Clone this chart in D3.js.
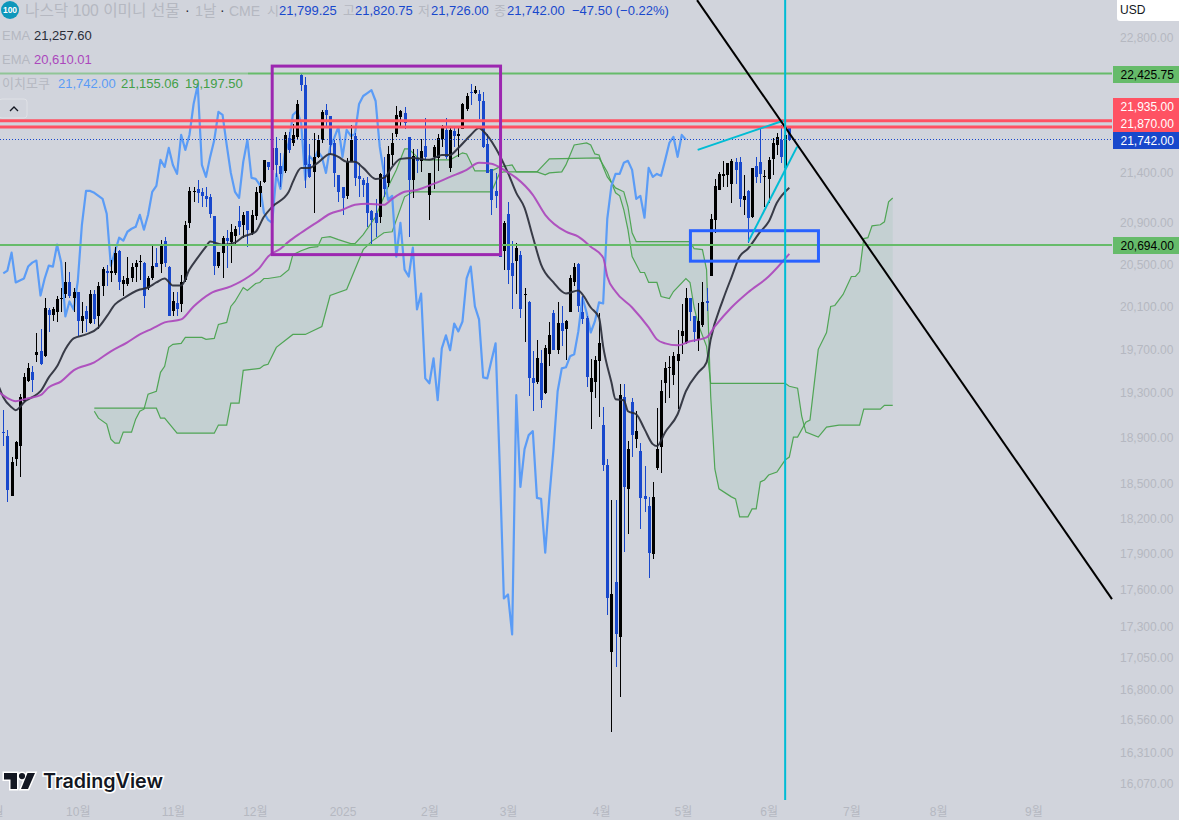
<!DOCTYPE html>
<html>
<head>
<meta charset="utf-8">
<script src="https://cdn.jsdelivr.net/npm/d3@7"></script>
<style>
  body { margin: 0; background: #d1d4dc; overflow: hidden; }
  text { font-family: "Liberation Sans", "Noto Sans CJK KR", sans-serif; }
</style>
</head>
<body>
<div id="chart"></div>
<script>
// daily candles, oldest first
var opens = [18958,18923,18401,18720,18835,19235,19415,19497,19653,19690,19644,20070,20032,20051,20183,20230,20344,20192,20240,19967,20061,19948,20221,20014,20297,20449,20430,20430,20640,20325,20316,20373,20487,20535,20525,20278,20382,20525,20516,20737,20487,20061,20136,20127,20354,20912,21217,21246,21217,21177,21167,20980,20496,20621,20766,20727,20785,20931,20892,21030,20814,20980,21207,21316,21517,21436,21658,21476,21426,21759,21708,21769,22410,22305,21497,21416,21567,21739,22046,21985,21708,21386,21266,21177,21517,21780,21376,21336,21306,21030,21010,20971,21386,21306,21587,21800,21974,22015,21769,21336,21557,21527,21678,21187,21567,21557,21749,21841,21456,21830,21780,21851,22057,22232,22222,22211,22139,21698,21446,21226,21246,20640,21000,20525,20544,20602,20221,20146,19442,19406,19579,19307,19662,20042,19699,19948,19892,20051,20344,20516,20051,19995,19316,19406,19597,19021,18668,17100,17676,17220,19271,18461,19226,18896,18791,18401,18315,17909,18642,18826,19397,19533,19470,19597,19828,19763,20183,20014,19800,19930,20155,20392,20941,21236,21376,21386,21296,21517,21517,21137,21226,20971,21476,21517,21366,21346,21547,21688,21739,21456,21882];
var highs = [19155,18976,18738,18879,19298,19488,19579,19552,19855,19901,20192,20089,20098,20211,20278,20535,20439,20278,20240,20146,20108,20268,20268,20335,20487,20506,20554,20679,20650,20392,20583,20525,20554,20602,20535,20392,20708,20669,20747,20776,20496,20249,20249,20411,20931,21266,21266,21336,21256,21266,21197,20980,20631,20785,20844,20902,20882,21078,21020,21030,21039,21266,21326,21537,21517,21678,21769,21608,21820,21820,21902,22149,22420,22389,21698,21810,21790,22046,22108,21985,21739,21386,21266,21557,21892,21810,21507,21356,21366,21039,21147,21406,21567,21678,21810,22087,22046,22077,21769,21648,21648,21749,21964,21406,21688,21800,21892,21964,21882,21871,21861,22118,22222,22316,22295,22253,22232,21800,21446,21406,21246,20931,21118,20737,20718,20640,20287,20155,19690,19791,19699,19745,19958,20070,20146,20108,19976,20411,20525,20525,20202,20014,19616,19644,20042,19181,18720,18366,18366,19388,19388,18879,19262,19145,18861,18660,18392,18521,19172,19424,19588,19644,19680,19883,20127,20278,20192,20014,20136,20335,20287,21000,21346,21416,21527,21507,21547,21557,21567,21386,21236,21456,21567,21861,21436,21567,21759,21810,21892,21882,21882];
var lows = [18835,18349,18401,18660,18564,19226,19406,19316,19588,19561,19634,19864,19967,19958,20051,20183,20183,20051,19828,19855,19864,19939,19939,19892,20202,20306,20335,20411,20268,20211,20297,20335,20344,20363,20089,20259,20363,20487,20430,20487,20014,20014,20014,20051,20335,20863,21118,21108,21069,21069,20961,20411,20477,20382,20477,20525,20698,20795,20766,20679,20795,20941,21069,21306,21436,21416,21366,21266,21406,21608,21678,21749,22243,21256,21356,21010,21557,21708,21871,21587,21266,21118,20990,21147,21517,21276,21167,21167,20872,20698,20776,20912,21167,21266,21486,21769,21861,21851,20776,21157,21406,21416,21537,20941,21246,21426,21668,21547,21416,21668,21567,21851,22036,22098,22211,21954,21658,21406,20990,21059,20583,20458,20316,20080,20221,20004,19773,19280,19145,19388,19172,19298,19552,19699,19662,19736,19606,20051,20297,20051,19939,19361,18985,19262,19092,18616,17398,16474,16981,16745,17926,18077,18738,18817,18119,18263,17710,17867,18625,18599,19217,19262,19379,19163,19662,19754,19967,19773,19690,19911,20061,20392,20814,21236,21266,21266,21108,21296,21069,20990,20718,20961,21306,21306,21069,21108,21386,21587,21507,21456,21726];
var closes = [18949,18452,18694,18870,19271,19451,19533,19424,19680,19570,20089,20023,20080,20174,20192,20344,20211,20249,19967,20014,19986,20230,19986,20297,20468,20421,20449,20621,20335,20354,20373,20487,20525,20545,20211,20373,20496,20487,20698,20525,20014,20155,20080,20344,20892,21226,21226,21207,21177,21147,21000,20496,20631,20766,20737,20824,20853,20872,20990,20844,20990,21217,21276,21537,21466,21658,21486,21396,21790,21638,21790,22108,22305,21486,21366,21567,21739,22026,21995,21688,21406,21217,21157,21517,21739,21356,21346,21286,21010,20941,20912,21396,21246,21597,21708,21995,22036,21912,21336,21577,21527,21628,21567,21406,21668,21759,21871,21567,21841,21780,21800,22108,22191,22222,22253,22139,21668,21406,21137,21177,20583,20912,20458,20392,20669,20080,20230,19442,19397,19625,19244,19717,19837,19699,19948,19874,19967,20373,20487,20108,19986,19451,19442,19606,19763,18668,17537,17570,17244,19289,18478,18808,18932,18967,18383,18375,17918,18392,18808,19325,19533,19543,19644,19662,19874,20192,20051,19864,19967,20146,20136,20951,21276,21396,21396,21507,21527,21436,21147,21177,20961,21456,21366,21396,21376,21537,21708,21769,21567,21790,21742];

// EMA lines and cloud spans, sampled at [bar, price]
var ema20 = [[-1,19361],[0,19271],[2,19181],[3,19154],[4,19181],[5,19226],[7,19271],[9,19325],[11,19451],[13,19552],[15,19708],[17,19809],[20,19846],[23,19911],[25,20014],[27,20127],[29,20183],[33,20268],[35,20287],[37,20335],[39,20373],[41,20306],[43,20306],[45,20458],[47,20573],[49,20679],[50,20728],[53,20698],[56,20718],[58,20776],[61,20824],[63,20971],[65,21069],[69,21217],[70,21316],[72,21456],[74,21456],[76,21507],[79,21597],[81,21567],[83,21517],[85,21517],[87,21456],[90,21346],[92,21356],[94,21466],[96,21547],[99,21557],[103,21537],[106,21587],[108,21587],[110,21658],[113,21790],[115,21861],[116,21830],[119,21658],[122,21406],[124,21207],[126,21059],[128,20776],[130,20506],[133,20335],[136,20230],[139,20259],[140,20221],[142,20098],[144,20004],[145,19736],[147,19406],[148,19253],[150,19244],[151,19145],[153,19118],[155,18985],[157,18852],[158,18835],[160,18958],[163,19118],[165,19325],[168,19497],[170,19588],[171,19800],[174,20174],[176,20382],[178,20583],[180,20659],[183,20824],[185,20921],[187,21108],[190,21257.6]];
var ema60 = [[-1,19316],[1,19262],[3,19235],[6,19262],[9,19289],[11,19361],[14,19415],[17,19515],[22,19588],[26,19690],[30,19773],[33,19846],[36,19901],[39,19958],[43,19986],[46,20108],[50,20230],[55,20297],[59,20382],[62,20477],[64,20583],[67,20659],[69,20728],[72,20814],[76,20921],[79,21000],[82,21039],[85,21088],[88,21098],[92,21088],[94,21147],[97,21217],[100,21236],[104,21296],[108,21366],[112,21436],[115,21507],[118,21497],[121,21436],[124,21356],[128,21187],[131,20990],[136,20824],[139,20776],[142,20679],[145,20573],[146,20392],[148,20249],[152,20098],[156,19911],[158,19800],[160,19763],[163,19745],[166,19782],[170,19818],[172,19920],[176,20098],[180,20240],[185,20392],[190,20610.01]];
var spanA = [[22,19145],[23,19083],[25,19030],[26,18896],[27,18861],[28,18861],[29,18958],[31,18958],[32,19074],[33,19145],[34,19163],[35,19298],[37,19325],[38,19497],[39,19552],[40,19726],[41,19754],[43,19763],[44,19818],[48,19818],[49,19800],[51,19809],[52,19939],[54,19958],[55,20108],[56,20155],[58,20287],[59,20259],[61,20325],[62,20335],[63,20373],[64,20373],[67,20392],[69,20458],[70,20602],[72,20640],[74,20669],[76,20679],[77,20766],[79,20776],[81,20747],[84,20708],[85,20708],[87,20795],[90,20971],[93,21266],[95,21436],[97,21648],[98,21648],[100,21567],[101,21537],[108,21537],[111,21608],[112,21597],[114,21426],[118,21426],[120,21466],[123,21486],[124,21416],[129,21416],[131,21386],[132,21406],[135,21416],[136,21486],[137,21587],[138,21688],[141,21708],[142,21688],[143,21597],[144,21587],[145,21466],[146,21366],[148,21256],[150,21217],[151,21069],[152,20814],[153,20728],[166,20728],[167,20659],[169,20650],[170,20458],[171,19280],[172,18634],[173,18461],[176,18392],[177,18375],[178,18221],[180,18221],[181,18289],[182,18289],[183,18521],[184,18538],[185,18581],[187,18607],[189,18712],[190,18738],[191,18914],[192,18914],[194,19047],[195,19065],[197,19708],[199,19864],[200,20108],[201,20117],[203,20221],[205,20392],[206,20392],[207,20439],[208,20757],[209,20766],[210,20882],[212,20892],[213,20921],[214,21118],[215,21155.06]];
var spanB = [[22,19172],[37,19172],[38,19083],[39,19083],[42,18949],[51,18949],[52,19021],[54,19021],[55,19217],[57,19217],[58,19515],[60,19524],[62,19533],[63,19561],[64,19570],[66,19726],[70,19846],[73,19846],[77,19920],[79,20211],[83,20268],[85,20458],[87,20650],[89,20728],[92,20814],[94,20824],[97,21167],[99,21217],[118,21217],[120,21406],[121,21416],[129,21416],[132,21547],[144,21557],[146,21416],[148,21207],[149,21177],[150,21039],[151,20844],[152,20583],[154,20430],[155,20430],[156,20335],[158,20335],[159,20202],[161,20183],[162,20249],[165,20373],[166,20335],[167,20098],[168,19939],[170,19736],[171,19397],[172,19397],[189,19397],[190,19370],[192,19352],[193,19101],[194,18958],[197,18914],[199,19003],[202,19021],[207,19021],[208,19163],[212,19163],[213,19197.5],[215,19197.5]];

// price levels drawn on the chart
var greenLevels = [22425.75, 20694];
var redLevels = [21935, 21870];
var lastPrice = 21742;

// axis ticks
var priceTicks = [22800,21400,20900,20500,20100,19700,19300,18900,18500,18200,17900,17600,17300,17050,16800,16560,16310,16070];
var monthBars = [-2.2,18,41,60.8,82,103,122,144.5,164.3,185,205,226,249];
var monthLabels = ["9월","10월","11월","12월","2025","2월","3월","4월","5월","6월","7월","8월","9월"];

var svgWidth = 1179, svgHeight = 820;
var plotRight = 1112, plotBottom = 800;

var svg = d3.select("#chart").append("svg")
  .attr("width", svgWidth)
  .attr("height", svgHeight)
  .style("display", "block");

// bar index to pixels, log price to pixels
var x = d3.scaleLinear().domain([0, 190]).range([3.3, 789.3]);
var y = d3.scaleLog().domain([22800, 16070]).range([38.2, 785]);

svg.append("clipPath").attr("id", "plot").append("rect")
  .attr("width", plotRight + 1).attr("height", plotBottom);
var plot = svg.append("g").attr("clip-path", "url(#plot)");

var line = d3.line().x(d => x(d[0])).y(d => y(d[1]));
var smooth = d3.line().x(d => x(d[0])).y(d => y(d[1])).curve(d3.curveMonotoneX);

// cloud fill, span A forward then span B back
plot.append("path")
  .attr("d", line(spanA.concat(spanB.slice().reverse())) + "Z")
  .attr("fill", "#43b06f")
  .attr("fill-opacity", 0.09);
[spanA, spanB].forEach(function(s) {
  plot.append("path")
    .attr("d", line(s))
    .attr("fill", "none")
    .attr("stroke", "#43a047")
    .attr("stroke-opacity", 0.9)
    .attr("stroke-width", 1.2);
});

// lagging line is the close drawn 25 bars back
var lagging = closes.map((c, i) => [i - 25, c]).filter(d => d[0] >= 0);
plot.append("path")
  .attr("d", line(lagging))
  .attr("fill", "none")
  .attr("stroke", "#5b9cf6")
  .attr("stroke-width", 2.2)
  .attr("stroke-linejoin", "round");

// candles
var barData = closes.map((c, i) => ({i: i, o: opens[i], h: highs[i], l: lows[i], c: c}));
var barColor = d => d.c >= d.o ? "#000000" : "#1848cc";

plot.append("g").selectAll("rect")
  .data(barData)
  .join("rect")
  .attr("x", d => Math.round(x(d.i)))
  .attr("width", 1)
  .attr("y", d => y(d.h))
  .attr("height", d => y(d.l) - y(d.h))
  .attr("fill", barColor)
  .attr("shape-rendering", "crispEdges");

plot.append("g").selectAll("rect")
  .data(barData)
  .join("rect")
  .attr("x", d => Math.round(x(d.i)) - 1)
  .attr("width", 3)
  .attr("y", d => y(Math.max(d.o, d.c)))
  .attr("height", d => Math.max(1, Math.abs(y(d.o) - y(d.c))))
  .attr("fill", barColor)
  .attr("shape-rendering", "crispEdges");

// moving averages
[[ema20, "#2a2e39"], [ema60, "#ab47bc"]].forEach(function(s) {
  plot.append("path")
    .attr("d", smooth(s[0]))
    .attr("fill", "none")
    .attr("stroke", s[1])
    .attr("stroke-opacity", 0.92)
    .attr("stroke-width", 2)
    .attr("stroke-linejoin", "round");
});

// drawn levels
function hline(price, color, width, dash) {
  return plot.append("line")
    .attr("x1", 0).attr("x2", plotRight)
    .attr("y1", y(price)).attr("y2", y(price))
    .attr("stroke", color)
    .attr("stroke-width", width)
    .attr("stroke-dasharray", dash);
}
greenLevels.forEach(p => hline(p, "#66bb6a", 2));
redLevels.forEach(p => hline(p, "#ff5263", 3));
hline(lastPrice, "#1848cc", 1, "1 2").attr("shape-rendering", "crispEdges");

// drawn boxes
function box(b0, b1, p0, p1, color) {
  plot.append("rect")
    .attr("x", x(b0)).attr("width", x(b1) - x(b0))
    .attr("y", y(p0)).attr("height", y(p1) - y(p0))
    .attr("fill", "none")
    .attr("stroke", color)
    .attr("stroke-width", 3);
}
box(65, 120.2, 22504, 20602, "#9c27b0");
box(166.1, 197.05, 20834, 20539, "#2962ff");

// drawn trend lines and the cyan marker
function trend(b0, p0, b1, p1, color) {
  plot.append("path")
    .attr("d", line([[b0, p0], [b1, p1]]))
    .attr("fill", "none")
    .attr("stroke", color)
    .attr("stroke-width", 2);
}
trend(167.85, 21638, 188.5, 21935, "#00bcd4");
trend(180.1, 20728, 191.9, 21671, "#00bcd4");
trend(167.7, 23211, 268, 17532, "#000000");
plot.append("line")
  .attr("x1", x(189)).attr("x2", x(189))
  .attr("y1", 0).attr("y2", plotBottom)
  .attr("stroke", "#00bcd4")
  .attr("stroke-width", 2);

// axes
var tickGrey = "#b5b8c1";
var rightAxis = d3.axisRight(y).tickValues(priceTicks).tickSize(0).tickPadding(0).tickFormat(d3.format(",.2f"));
var yAxis = svg.append("g").attr("transform", "translate(1120,-1)").call(rightAxis);
var bottomAxis = d3.axisBottom(x).tickValues(monthBars).tickSize(0).tickPadding(0).tickFormat((d, i) => monthLabels[i]);
var xAxis = svg.append("g").attr("transform", "translate(0,807)").call(bottomAxis);
[yAxis, xAxis].forEach(function(a) {
  a.select(".domain").remove();
  a.selectAll("text").attr("fill", tickGrey).style("font-size", "12px").style("font-family", null);
});

// price labels on the right edge
var priceFmt = d3.format(",.2f");
function tag(top, h, bg) {
  svg.append("rect").attr("x", 1113).attr("y", top).attr("width", 66).attr("height", h).attr("fill", bg);
}
function tagText(value, cy, color) {
  svg.append("text").attr("x", 1120.5).attr("y", cy + 4.5)
    .attr("fill", color).attr("font-size", 12)
    .text(priceFmt(value));
}
tag(66, 17, "#66bb6a");
tag(237, 17, "#66bb6a");
tag(98, 34, "#ff5263");
tag(132, 17, "#1848cc");
tagText(greenLevels[0], 74, "#000000");
tagText(greenLevels[1], 245, "#000000");
tagText(redLevels[0], 106, "#ffffff");
tagText(redLevels[1], 123, "#ffffff");
tagText(lastPrice, 140, "#ffffff");

svg.append("path").attr("d", "M1117 0H1179V21H1120Q1117 21 1117 18Z").attr("fill", "#ffffff");
svg.append("text").attr("x", 1120).attr("y", 14).attr("font-size", 12).attr("fill", "#131722").text("USD");

// legend, top left
svg.append("rect").attr("x", 0).attr("y", 72).attr("width", 248).attr("height", 3).attr("fill", "#d1d4dc").attr("opacity", 0.4);
function label(px, py, size, color, str) {
  svg.append("text").attr("x", px).attr("y", py).attr("font-size", size).attr("fill", color).text(str);
}
var faint = "#b5b8c1", blueText = "#1848cc";
svg.append("circle").attr("cx", 10).attr("cy", 10).attr("r", 9).attr("fill", "#0e97bb");
svg.append("text").attr("x", 10).attr("y", 13).attr("text-anchor", "middle")
  .attr("font-size", 8.5).attr("font-weight", 700).attr("fill", "#ffffff").text("100");
label(25, 16, 15.7, faint, "나스닥 100 이미니 선물");
label(185, 15, 14, "#2a2e39", "·");
label(195, 16, 14.5, faint, "1날");
label(220, 15, 14, "#2a2e39", "·");
label(229, 15.5, 14, faint, "CME");
label(267, 15, 13, faint, "시");
label(279, 15, 13, blueText, "21,799.25");
label(343, 15, 13, faint, "고");
label(355, 15, 13, blueText, "21,820.75");
label(418, 15, 13, faint, "저");
label(431, 15, 13, blueText, "21,726.00");
label(494, 15, 13, faint, "종");
label(507, 15, 13, blueText, "21,742.00");
label(572, 15, 13, blueText, "−47.50 (−0.22%)");

label(2, 40, 13, faint, "EMA");
label(34, 40, 13, "#2a2e39", priceFmt(ema20[ema20.length - 1][1]));
label(2, 64, 13, faint, "EMA");
label(34, 64, 13, "#ab47bc", priceFmt(ema60[ema60.length - 1][1]));
label(2, 88, 13, faint, "이치모쿠");
label(58, 88, 13, "#5b9cf6", priceFmt(lastPrice));
label(121, 88, 13, "#43a047", priceFmt(spanA[spanA.length - 1][1]));
label(185, 88, 13, "#43a047", priceFmt(spanB[spanB.length - 1][1]));

// collapse button
svg.append("rect").attr("x", -1).attr("y", 99).attr("width", 28).attr("height", 19).attr("rx", 3)
  .attr("fill", "none").attr("stroke", "#dfe1e6");
svg.append("path").attr("d", "M10 111L14 107L18 111").attr("fill", "none").attr("stroke", "#131722").attr("stroke-width", 1.3);

// TradingView mark
var logo = svg.append("g").attr("transform", "translate(4,773)");
var mark = "M13 0H0V6.5H6.5V16H13ZM18 0A3.1 3.1 0 1 0 18 6.2A3.1 3.1 0 0 0 18 0ZM31 0H23.5L17 16H24Z";
logo.append("path").attr("d", mark).attr("fill", "#131722")
  .attr("stroke", "#ffffff").attr("stroke-width", 3).attr("paint-order", "stroke");
logo.append("text").attr("x", 39).attr("y", 15)
  .style("font-family", "Inter").attr("font-size", 19.7).attr("font-weight", 600)
  .attr("fill", "#131722").attr("stroke", "#ffffff").attr("stroke-width", 3).attr("paint-order", "stroke")
  .text("TradingView");
</script>
</body>
</html>
